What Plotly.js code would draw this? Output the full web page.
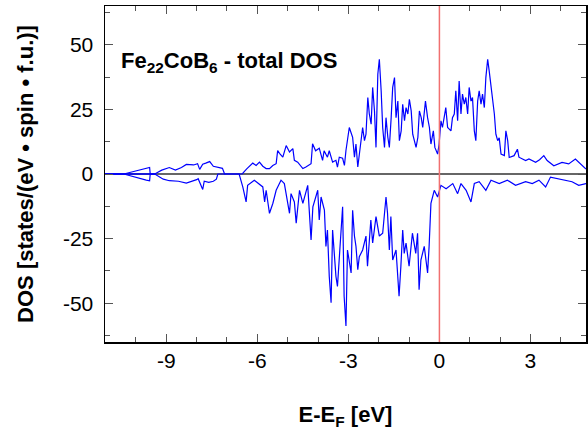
<!DOCTYPE html>
<html>
<head>
<meta charset="utf-8">
<script src="https://cdn.plot.ly/plotly-3.0.1.min.js"></script>
<style>html,body{margin:0;padding:0;background:#fff;}#plot{width:588px;height:430px;}</style>
</head>
<body>
<div id="plot"></div>
<script>
// Spin-up DOS (positive)
const upE = [-11.02,-10.4,-9.55,-9.53,-9.38,-9.15,-8.9,-8.7,-8.5,-8.34,-8.1,-7.97,-7.9,-7.8,-7.7,-7.57,-7.45,-7.3,-7.15,-7.08,-6.5,
 -6.35,-6.15,-6.04,-5.93,-5.82,-5.71,-5.6,-5.49,-5.38,-5.33,-5.27,-5.16,-5.05,-4.94,-4.83,-4.78,-4.67,-4.5,-4.4,-4.23,-4.18,-4.08,
 -3.96,-3.85,-3.8,-3.69,-3.63,-3.52,-3.41,-3.36,
 -3.3,-3.19,-3.13,-3.08,-2.97,-2.86,-2.8,-2.75,-2.69,-2.58,-2.53,-2.47,-2.42,-2.36,-2.31,-2.25,-2.2,-2.14,-2.09,-2.03,-1.98,
 -1.92,-1.87,-1.81,-1.76,-1.7,-1.65,-1.59,-1.54,-1.48,-1.43,-1.37,-1.32,-1.26,-1.21,-1.15,-1.1,-1.04,-0.99,-0.93,-0.88,-0.77,
 -0.71,-0.66,-0.6,-0.55,-0.46,-0.39,-0.33,-0.28,-0.2,-0.15,-0.06,-0.01,0.05,0.1,0.21,0.27,0.38,0.43,0.49,0.54,0.6,0.65,0.71,
 0.76,0.82,0.87,0.93,0.98,1.04,1.09,1.15,1.2,1.26,1.31,1.37,1.42,1.48,1.53,1.59,1.64,1.7,1.75,1.81,1.86,1.92,1.97,2.03,2.14,
 2.19,2.25,2.3,2.46,2.57,2.62,2.84,2.95,3.17,3.3,3.44,3.55,3.77,4.04,4.26,4.48,4.64,4.83];
const upDOS = [0,0,2.5,0,0,1.5,2.5,1.5,2.5,3.7,3.5,4,1.8,3.8,4.2,4.8,3,2.5,2.2,0,0,
 2,4.2,3.3,4.6,3,2.1,2.1,3.3,4.0,9.1,8,6.5,11,8.5,9.8,5.3,4.6,2.1,2.7,4,11.7,9,
 10,5.3,9,6.5,9,4.6,5.3,2.7,
 6.5,6.1,3.3,9.1,18,14.2,6.5,11.6,2.7,14.2,18,12.9,15.4,29.6,23.2,19.3,33.5,24.4,10.3,38.6,44.4,
 32.2,18,10.3,21.8,14.2,10.3,21.8,33.5,37.3,21.8,28.2,12.9,16.7,27,20.6,25.7,23.2,28.9,24.4,15.4,10.3,
 14.2,24.4,21.8,18,28.2,21.8,18,11.6,16.7,10.3,7.7,11.6,20.6,18,25.7,18,16.7,21.8,23.2,32.2,20.6,36,23.2,
 30.9,27,29.6,23.2,33.5,28.2,29.6,16.7,12.9,28.2,32.2,27,30.9,25.7,37.3,44.4,39.9,34.7,29.6,23.2,15.4,12.9,14,7.7,7.1,
 16.7,12.9,6.4,7.1,9.6,6.5,5.2,5.8,4.5,5.5,7.1,5.2,3.2,4.5,3.9,5.8,3.9,1.9];

// Spin-down DOS (negative)
const dnE = [-11.02,-10.4,-9.66,-9.55,-9.53,-9.38,-9.1,-8.9,-8.6,-8.34,-8.0,-7.95,-7.8,-7.75,-7.6,-7.45,-7.35,-7.3,-6.6,
 -6.48,-6.37,-6.32,-6.1,-5.82,-5.76,-5.71,-5.6,-5.49,-5.38,-5.22,-5.11,-4.94,-4.89,-4.78,-4.72,-4.61,-4.5,-4.34,-4.23,-4.17,
 -4.01,-3.96,-3.9,-3.79,-3.74,-3.69,-3.63,-3.57,-3.52,-3.46,-3.41,-3.36,-3.3,-3.19,-3.14,-3.08,-3.03,-2.97,-2.91,-2.86,-2.8,
 -2.75,-2.69,-2.64,-2.53,-2.42,-2.37,-2.26,-2.2,-2.09,-1.98,-1.87,-1.76,-1.71,-1.65,-1.6,-1.54,-1.43,-1.33,-1.27,-1.21,-1.16,
 -1.1,-1.0,-0.89,-0.78,-0.72,-0.67,-0.61,-0.5,-0.39,-0.34,-0.28,-0.17,-0.06,0.05,0.22,0.44,0.6,0.71,0.88,1.04,1.15,1.31,1.53,
 1.7,1.97,2.24,2.51,2.84,3.06,3.28,3.5,3.66,3.94,4.37,4.59,4.83];
const dnDOS = [0,0,-2.4,-2.6,0,0,-2.0,-2.6,-2.8,-3.5,-2.2,-1.8,-6,-2.8,-3.2,-2.8,-2,0,0,
 -5,-10.8,-4.4,-2.4,-5,-10.8,-6.3,-15.2,-11.4,-6.3,-2.4,-3.7,-15.2,-7.6,-10.8,-19,-6.3,-11.4,-4.4,-25.5,-12.7,
 -6.3,-17.8,-8.9,-14,-28,-21.7,-39.6,-49.8,-21.7,-32,-39.6,-43.5,-32,-12.7,-47.3,-58.8,-29.4,-34.5,-38.3,-14,-24,
 -28,-37,-32,-29.4,-24,-35.7,-17.8,-26.7,-16.5,-24,-22.9,-8.9,-15.2,-29.4,-16.5,-33.3,-29.4,-47.3,-35.7,-21.7,-30.7,
 -26.7,-35.7,-22.9,-30.7,-22.9,-44.8,-33.3,-28,-38.3,-28,-11.4,-6.3,-8.9,-4.4,-5.7,-3.7,-7.6,-3.7,-6.3,-10.8,-3.7,-3,-6.3,
 -2.4,-3.7,-2.4,-4.4,-3,-3.7,-2.4,-5,-1.2,-1.8,-3,-4.4,-3.7];

// Baseline segment drawn in the data colour
const baseE = [-11.02, -9.38];
const baseDOS = [0, 0];

const xTickVals = [-9, -6, -3, 0, 3];
const yTickVals = [-50, -25, 0, 25, 50];

const font = 'Liberation Sans, Arial, sans-serif';
const lineStyle = {color: '#0000ff', width: 1.2};

const traces = [
  {x: baseE, y: baseDOS, mode: 'lines', line: {color: '#0000ff', width: 1.5}, hoverinfo: 'skip'},
  {x: upE, y: upDOS, mode: 'lines', line: lineStyle, name: 'up'},
  {x: dnE, y: dnDOS, mode: 'lines', line: lineStyle, name: 'down'}
];

const axisCommon = {
  showgrid: false, showline: true, linecolor: '#000', linewidth: 1.5,
  ticks: 'inside', ticklen: 8, tickwidth: 1, tickcolor: '#555',
  mirror: 'allticks',
  tickfont: {family: font, size: 21, color: '#000'}
};

const layout = {
  width: 588, height: 430,
  margin: {l: 105, r: 2, t: 6, b: 88},
  paper_bgcolor: '#fff', plot_bgcolor: '#fff',
  showlegend: false,
  xaxis: Object.assign({}, axisCommon, {
    range: [-11.02, 4.83], tickvals: xTickVals, ticktext: xTickVals.map(String),
    zeroline: false, ticklabelstandoff: -1,
    minor: {dtick: 1, tick0: 0, ticklen: 5, tickcolor: '#555', ticks: 'inside'},
    title: {text: 'E-E<sub>F</sub> [eV]', font: {family: font, size: 22, color: '#000', weight: 'bold'}, standoff: 40}
  }),
  yaxis: Object.assign({}, axisCommon, {
    range: [-65, 65], tickvals: yTickVals, ticktext: yTickVals.map(String),
    zeroline: true, zerolinecolor: '#666', zerolinewidth: 1.5, ticklabelstandoff: 6,
    minor: {dtick: 12.5, tick0: 0, ticklen: 5, tickcolor: '#555', ticks: 'inside'},
    title: {text: 'DOS [states/(eV • spin • f.u.)]', font: {family: font, size: 22, color: '#000', weight: 'bold'}, standoff: 23}
  }),
  shapes: [{type: 'line', xref: 'x', yref: 'paper', x0: 0, x1: 0, y0: 0, y1: 1,
            line: {color: '#f07070', width: 1.5}, layer: 'above'}],
  annotations: [{
    xref: 'paper', yref: 'paper', x: 0.03, y: 0.833, xanchor: 'left', yanchor: 'middle',
    text: 'Fe<sub>22</sub>CoB<sub>6</sub> - total DOS', showarrow: false,
    font: {family: font, size: 22, color: '#000', weight: 'bold'}
  }]
};

Plotly.newPlot('plot', traces, layout, {displayModeBar: false, staticPlot: true});
</script>
</body>
</html>
